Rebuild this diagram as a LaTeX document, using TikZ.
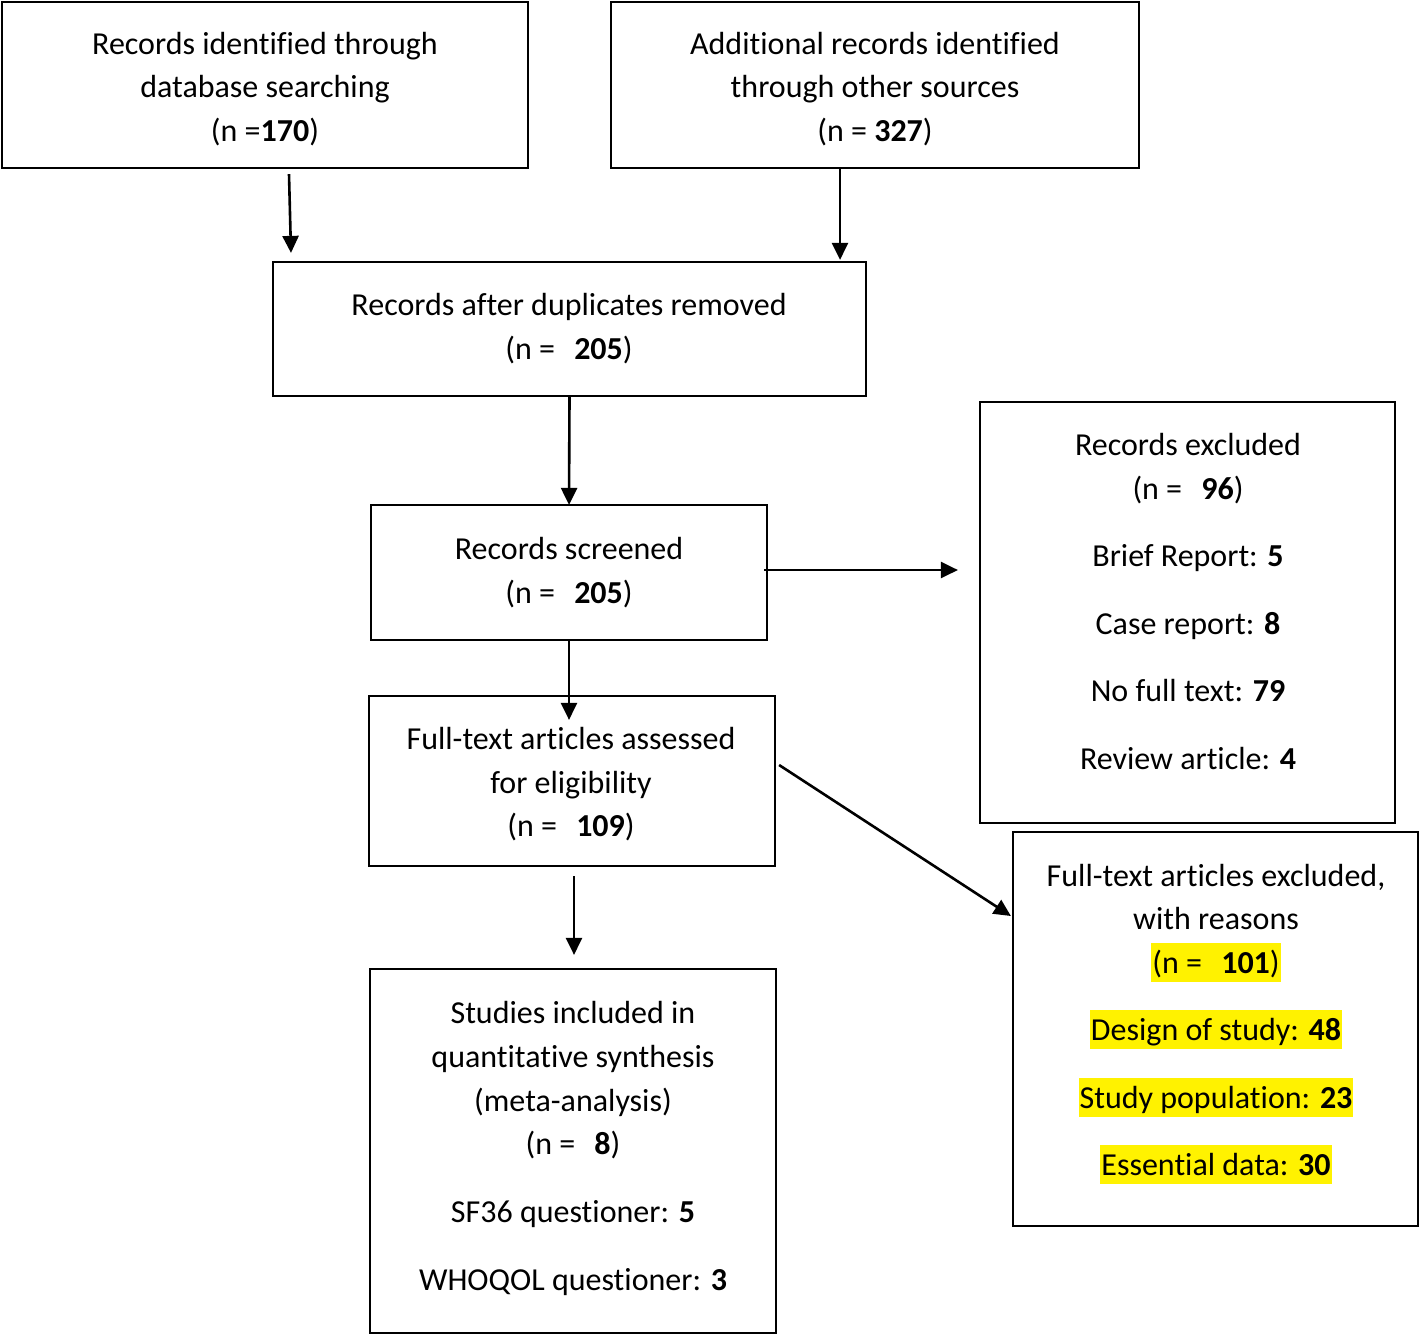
\documentclass[tikz,border=0pt]{standalone}
\usepackage{fontspec}
\setmainfont{Carlito}[Ligatures=NoCommon]
\usetikzlibrary{arrows.meta}
\begin{document}
\begin{tikzpicture}[x=1pt,y=-1pt,
  box/.style={draw,line width=2.2pt,inner sep=0pt},
  txt/.style={anchor=base,inner sep=0pt,font=\fontsize{32}{38}\selectfont},
  hl/.style={txt,fill=yellow,inner xsep=1pt,text height=30pt,text depth=9pt},
  arr/.style={line width=2.6pt,-{Triangle[length=17pt,width=16pt]}}]
\useasboundingbox (0,0) rectangle (1420,1335);
% boxes
\node[box,minimum width=526pt,minimum height=166pt] (A) at (265,85) {};
\node[box,minimum width=528pt,minimum height=166pt] (B) at (875,85) {};
\node[box,minimum width=593pt,minimum height=134pt] (C) at (569.5,329) {};
\node[box,minimum width=396pt,minimum height=135pt] (D) at (569,572.5) {};
\node[box,minimum width=415pt,minimum height=421pt] (E) at (1187.5,612.5) {};
\node[box,minimum width=406pt,minimum height=170pt] (F) at (572,781) {};
\node[box,minimum width=405pt,minimum height=394pt] (G) at (1215.5,1029) {};
\node[box,minimum width=406pt,minimum height=364pt] (H) at (573,1151) {};
% texts
\newcommand{\gapn}{\hspace{0.6em}}
\node[txt] (a1) at (265,55) {Records identified through};
\node[txt] (a2) at (265,98) {database searching};
\node[txt] (a3) at (265,141) {(n =\textbf{170})};
\node[txt] (b1) at (875,55) {Additional records identified};
\node[txt] (b2) at (875,98) {through other sources};
\node[txt] (b3) at (875,141) {(n = \textbf{327})};
\node[txt] (c1) at (569,315) {Records after duplicates removed};
\node[txt] (c2) at (569,359) {(n =\gapn\textbf{205})};
\node[txt] (d1) at (569,559) {Records screened};
\node[txt] (d2) at (569,603) {(n =\gapn\textbf{205})};
\node[txt] (e1) at (1188,455) {Records excluded};
\node[txt] (e2) at (1188,499) {(n =\gapn\textbf{96})};
\node[txt] (e3) at (1188,566) {Brief Report: \textbf{5}};
\node[txt] (e4) at (1188,634) {Case report: \textbf{8}};
\node[txt] (e5) at (1188,701) {No full text: \textbf{79}};
\node[txt] (e6) at (1188,769) {Review article: \textbf{4}};
\node[txt] (f1) at (571,749) {Full-text articles assessed};
\node[txt] (f2) at (571,793) {for eligibility};
\node[txt] (f3) at (571,836) {(n =\gapn\textbf{109})};
\node[txt] (g1) at (1216,886) {Full-text articles excluded,};
\node[txt] (g2) at (1216,929) {with reasons};
\node[hl] (g3) at (1216,973) {(n =\gapn\textbf{101})};
\node[hl] (g4) at (1216,1040) {Design of study: \textbf{48}};
\node[hl] (g5) at (1216,1108) {Study population: \textbf{23}};
\node[hl] (g6) at (1216,1175) {Essential data: \textbf{30}};
\node[txt] (h1) at (573,1023) {Studies included in};
\node[txt] (h2) at (573,1067) {quantitative synthesis};
\node[txt] (h3) at (573,1111) {(meta-analysis)};
\node[txt] (h4) at (573,1154) {(n =\gapn\textbf{8})};
\node[txt] (h5) at (573,1222) {SF36 questioner: \textbf{5}};
\node[txt] (h6) at (573,1290) {WHOQOL questioner: \textbf{3}};
% connector end points
\coordinate (ac1) at ([xshift=24pt,yshift=-5pt]A.south);
\coordinate (ac2) at ([xshift=-278.5pt,yshift=8pt]C.north);
\coordinate (bc1) at ([xshift=-35pt]B.south);
\coordinate (bc2) at ([xshift=270.5pt,yshift=1pt]C.north);
\coordinate (de1) at ([xshift=-4pt,yshift=2.5pt]D.east);
\coordinate (de2) at ([xshift=-21pt,yshift=42.5pt]E.west);
\coordinate (df2) at ([xshift=-3pt,yshift=-25pt]F.north);
\coordinate (fg1) at ([xshift=3pt,yshift=16pt]F.east);
\coordinate (fg2) at ([xshift=-1pt,yshift=113pt]G.west);
\coordinate (fh1) at ([xshift=2pt,yshift=-9pt]F.south);
\coordinate (fh2) at ([xshift=1pt,yshift=13pt]H.north);
% connectors
\draw[arr] (ac1) -- (ac2);
\draw[arr] (bc1) -- (bc2);
\draw[arr] (C.south) -- ([yshift=-1pt]D.north);
\draw[arr] (de1) -- (de2);
\draw[arr] (D.south) -- (df2);
\draw[arr] (fg1) -- (fg2);
\draw[arr] (fh1) -- (fh2);
\end{tikzpicture}
\end{document}
